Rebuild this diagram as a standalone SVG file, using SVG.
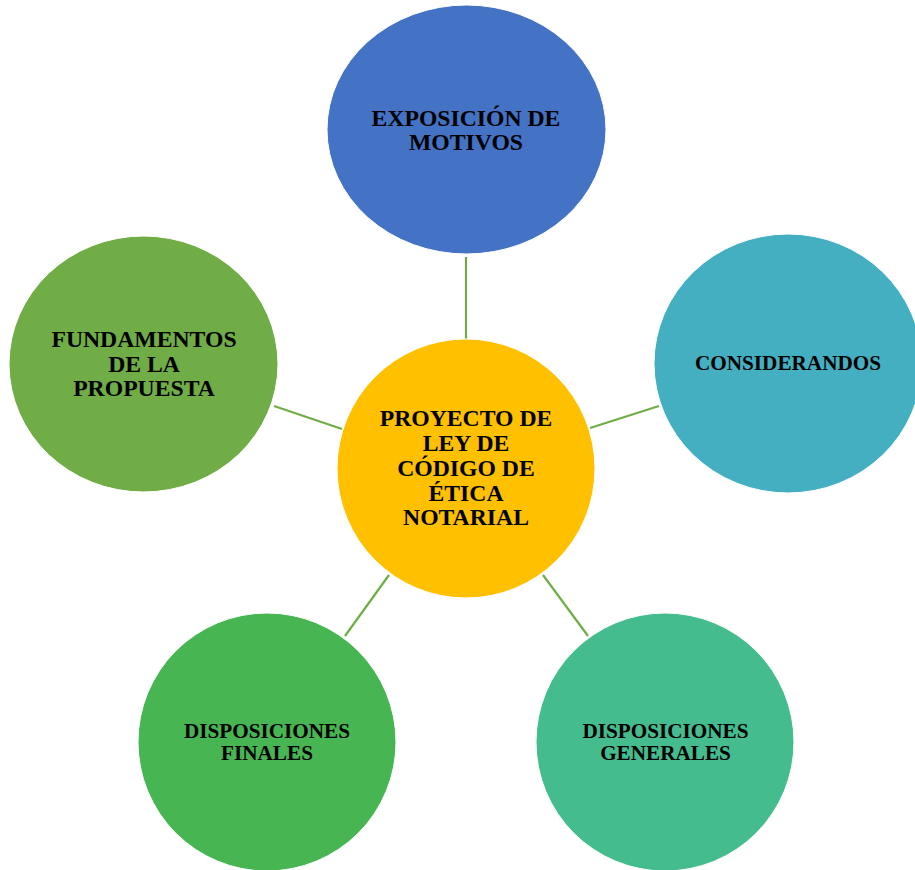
<svg xmlns="http://www.w3.org/2000/svg" width="915" height="870" viewBox="0 0 915 870">
<style>
.lbl{font-family:"Liberation Serif","Times New Roman",serif;font-weight:bold;fill:#000;text-anchor:middle}
.big{font-size:23.7px}
.sm{font-size:21.2px}
.conn line{stroke:#70AD47;stroke-width:2.2}
.node ellipse{stroke:#fff;stroke-width:1}
</style>
<rect width="915" height="870" fill="#fff"/>
<g id="connectors" class="conn">
<line x1="466" y1="257" x2="466" y2="339"/>
<line x1="274" y1="406" x2="342" y2="429"/>
<line x1="590" y1="428" x2="659" y2="406"/>
<line x1="389" y1="575" x2="345" y2="636"/>
<line x1="543" y1="575" x2="588" y2="636"/>
</g>
<g id="exposicion" class="node">
<ellipse cx="466.5" cy="129.5" rx="139.5" ry="124.5" fill="#4472C4"/>
<text class="lbl big" x="466" y="126">EXPOSICIÓN DE</text>
<text class="lbl big" x="466" y="150">MOTIVOS</text>
</g>
<g id="fundamentos" class="node">
<ellipse cx="143.5" cy="364" rx="134.5" ry="128" fill="#70AD47"/>
<text class="lbl big" x="144" y="347">FUNDAMENTOS</text>
<text class="lbl big" x="144" y="371.5">DE LA</text>
<text class="lbl big" x="144" y="396">PROPUESTA</text>
</g>
<g id="considerandos" class="node">
<ellipse cx="788" cy="363.5" rx="134" ry="129.5" fill="#44AFC1"/>
<text class="lbl sm" x="788" y="369.5">CONSIDERANDOS</text>
</g>
<g id="proyecto" class="node">
<ellipse cx="466" cy="468.5" rx="129" ry="129.5" fill="#FFC000"/>
<text class="lbl big" x="466" y="426">PROYECTO DE</text>
<text class="lbl big" x="466" y="451">LEY DE</text>
<text class="lbl big" x="466" y="476">CÓDIGO DE</text>
<text class="lbl big" x="466" y="501">ÉTICA</text>
<text class="lbl big" x="466" y="525">NOTARIAL</text>
</g>
<g id="finales" class="node">
<ellipse cx="267" cy="742" rx="129" ry="129" fill="#48B553"/>
<text class="lbl sm" x="267" y="738">DISPOSICIONES</text>
<text class="lbl sm" x="267" y="760">FINALES</text>
</g>
<g id="generales" class="node">
<ellipse cx="665" cy="742" rx="129" ry="129" fill="#45BC8E"/>
<text class="lbl sm" x="665.5" y="738">DISPOSICIONES</text>
<text class="lbl sm" x="665.5" y="760">GENERALES</text>
</g>
</svg>
